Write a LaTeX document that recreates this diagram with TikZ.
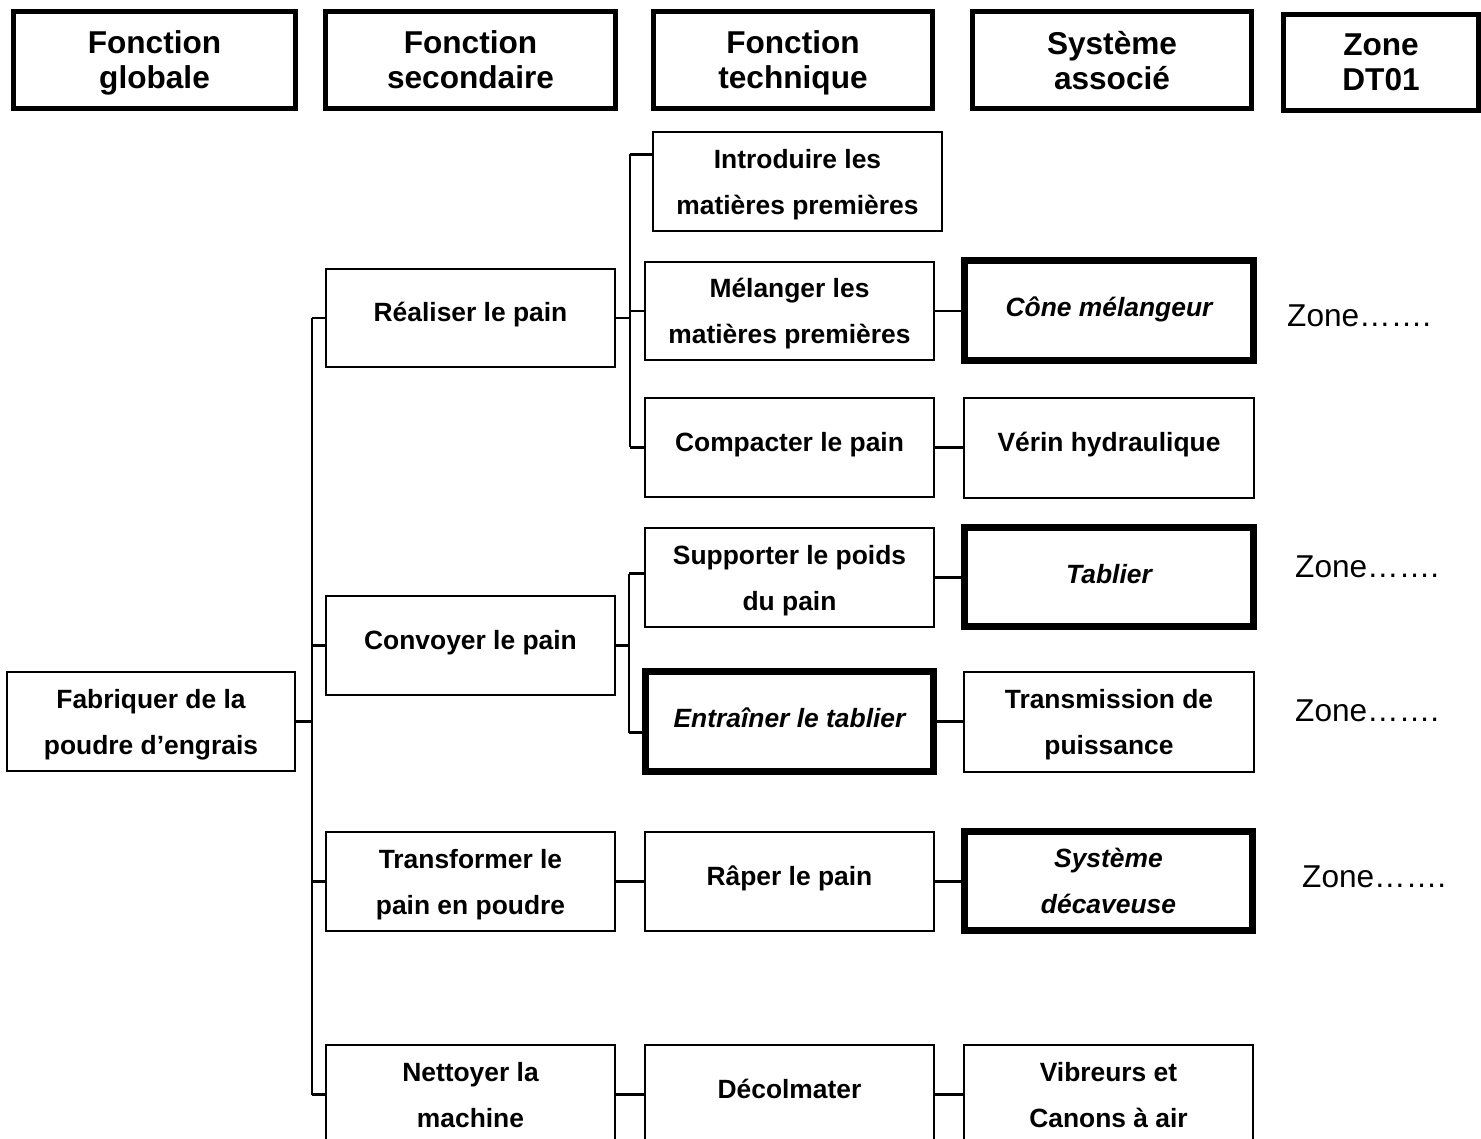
\documentclass[tikz,border=0pt]{standalone}
\usepackage{fontspec}
\setmainfont{Liberation Sans}
\usetikzlibrary{calc}
\begin{document}
\begin{tikzpicture}[x=1pt,y=-1pt,
  box/.style={draw, line width=1.8pt, inner sep=0pt, align=center,
    minimum width=289pt, minimum height=99pt, text depth=0pt,
    font=\bfseries\fontsize{26.4}{46}\selectfont},
  thickbox/.style={box, line width=7pt, font=\bfseries\itshape\fontsize{26.4}{46}\selectfont},
  single/.style={text height=20pt, text depth=12pt},
  thicksingle/.style={text height=20pt, text depth=8pt},
  headbox/.style={draw, line width=5pt, inner sep=0pt, align=center, text depth=0pt,
    minimum height=97pt, font=\bfseries\fontsize{31.6}{35}\selectfont},
  zonetext/.style={anchor=west, inner sep=0pt, font=\fontsize{31.6}{35}\selectfont},
  conn/.style={line width=2.4pt}]
\useasboundingbox (0,0) rectangle (1481,1139);
\clip (0,0) rectangle (1481,1139);

% headers
\node[headbox, minimum width=282pt] (h1) at (154.5,60) {Fonction\\globale};
\node[headbox, minimum width=290pt] (h2) at (470.5,60) {Fonction\\secondaire};
\node[headbox, minimum width=279pt] (h3) at (793,60) {Fonction\\technique};
\node[headbox, minimum width=279pt] (h4) at (1112,60) {Système\\associé};
\node[headbox, minimum width=195pt, minimum height=96pt] (h5) at (1381,62.5) {Zone\\DT01};

% global function
\node[box, minimum width=288pt] (fab) at (151,721.5) {Fabriquer de la\\poudre d’engrais};

% secondary functions
\node[box, single, minimum height=98pt] (real) at (470.5,318) {Réaliser le pain};
\node[box, single] (conv) at (470.5,645.5) {Convoyer le pain};
\node[box] (transf) at (470.5,881.5) {Transformer le\\pain en poudre};
\node[box] (nett) at (470.5,1094.5) {Nettoyer la\\machine};

% technical functions
\node[box] (intro) at (797.5,181.5) {Introduire les\\matières premières};
\node[box, minimum height=98pt] (mel) at (789.5,311) {Mélanger les\\matières premières};
\node[box, single] (comp) at (789.5,447.5) {Compacter le pain};
\node[box] (supp) at (789.5,577.5) {Supporter le poids\\du pain};
\node[thickbox, thicksingle, minimum width=288pt, minimum height=100pt] (entr) at (789.5,721.5) {Entraîner le tablier};
\node[box, single] (raper) at (789.5,881.5) {Râper le pain};
\node[box, single] (decol) at (789.5,1094.5) {Décolmater};

% associated systems
\node[thickbox, thicksingle, minimum height=100pt] (cone) at (1109,310.5) {Cône mélangeur};
\node[box, single, minimum width=290pt, minimum height=100pt] (verin) at (1109,448) {Vérin hydraulique};
\node[thickbox, thicksingle] (tab) at (1109,577) {Tablier};
\node[box, minimum width=290pt, minimum height=100pt] (trans) at (1109,722) {Transmission de\\puissance};
\node[thickbox, minimum width=288pt] (syst) at (1108.5,881) {Système\\décaveuse};
\node[box, minimum width=289pt] (vib) at (1108.5,1094.5) {Vibreurs et\\Canons à air};

% zone labels
\node[zonetext] (z1) at (1287,316) {Zone…….};
\node[zonetext] (z2) at (1295,567) {Zone…….};
\node[zonetext] (z3) at (1295,711) {Zone…….};
\node[zonetext] (z4) at (1302,877) {Zone…….};

% connectors
\coordinate (T) at (312,0);
\coordinate (A) at (630,0);
\coordinate (B) at (629,0);
\coordinate (ia) at ($(intro.west)+(0,-27)$);
\coordinate (sb) at ($(supp.west)+(0,-4)$);
\coordinate (eb) at ($(entr.west)+(0,11)$);

\draw[conn] (fab.east) -- (fab.east -| T);
\draw[conn] (real.west -| T) -- (nett.west -| T);
\foreach \n in {real,conv,transf,nett} \draw[conn] (\n.west -| T) -- (\n.west);

\draw[conn] (real.east) -- (real.east -| A);
\draw[conn] (ia -| A) -- (comp.west -| A);
\draw[conn] (ia -| A) -- (ia);
\draw[conn] (mel.west -| A) -- (mel.west);
\draw[conn] (comp.west -| A) -- (comp.west);

\draw[conn] (conv.east) -- (conv.east -| B);
\draw[conn] (sb -| B) -- (eb -| B);
\draw[conn] (sb -| B) -- (sb);
\draw[conn] (eb -| B) -- (eb);

\draw[conn] (transf.east) -- (transf.east -| raper.west);
\draw[conn] (nett.east) -- (nett.east -| decol.west);
\draw[conn] (mel.east) -- (mel.east -| cone.west);
\draw[conn] (comp.east) -- (comp.east -| verin.west);
\draw[conn] (supp.east) -- (supp.east -| tab.west);
\draw[conn] (entr.east) -- (entr.east -| trans.west);
\draw[conn] (raper.east) -- (raper.east -| syst.west);
\draw[conn] (decol.east) -- (decol.east -| vib.west);
\end{tikzpicture}
\end{document}
